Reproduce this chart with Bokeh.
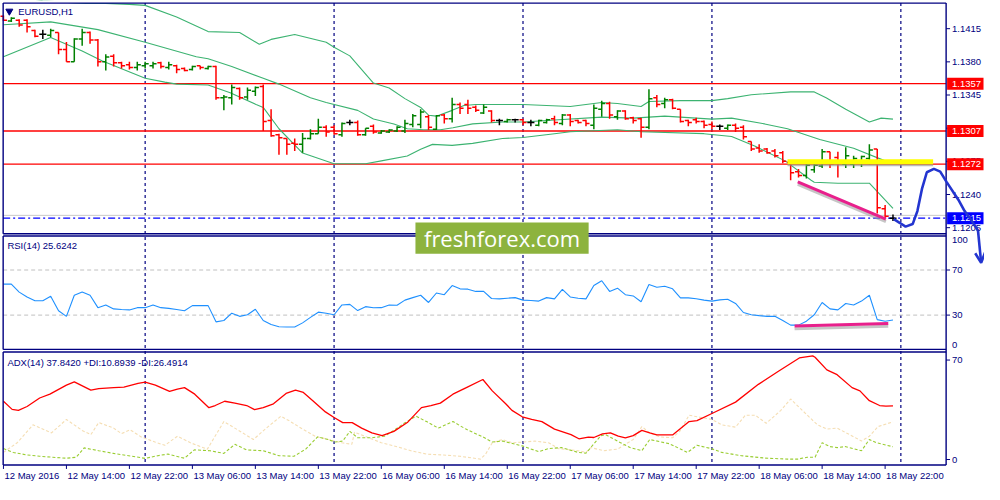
import numpy as np
from bokeh.plotting import figure
from bokeh.models import Range1d, ColumnDataSource, Arrow, OpenHead
from bokeh.embed import file_html
from bokeh.resources import INLINE
from bokeh.core.properties import value

# ---------------- data ----------------
OPEN = [1.1428,1.1423,1.1424,1.1424,1.1413,1.1409,1.1408,1.1411,1.1393,1.1380,
        1.1404,1.1411,1.1403,1.1380,1.1386,1.1379,1.1377,1.1374,1.1376,1.1376,
        1.1379,1.1374,1.1376,1.1373,1.1372,1.1376,1.1373,1.1375,1.1342,1.1342,
        1.1352,1.1343,1.1349,1.1354,1.1318,1.1303,1.1299,1.1294,1.1293,1.1299,
        1.1304,1.1311,1.1311,1.1303,1.1316,1.1316,1.1303,1.1312,1.1305,1.1306,
        1.1307,1.1307,1.1314,1.1314,1.1322,1.1309,1.1324,1.1320,1.1335,1.1335,
        1.1332,1.1326,1.1328,1.1318,1.1317,1.1319,1.1319,1.1316,1.1313,1.1316,
        1.1320,1.1315,1.1324,1.1318,1.1318,1.1313,1.1330,1.1336,1.1322,1.1328,
        1.1321,1.1320,1.1311,1.1342,1.1336,1.1340,1.1330,1.1318,1.1319,1.1317,
        1.1314,1.1312,1.1310,1.1313,1.1311,1.1296,1.1289,1.1288,1.1286,1.1284,
        1.1274,1.1264,1.1260,1.1266,1.1270,1.1285,1.1279,1.1272,1.1272,1.1275,
        1.1278,1.1288,1.1225,1.1215]
HIGH = [1.1429,1.1427,1.1425,1.1425,1.1414,1.1414,1.1415,1.1411,1.1401,1.1405,
        1.1415,1.1412,1.1404,1.1388,1.1388,1.1380,1.1380,1.1380,1.1380,1.1380,
        1.1380,1.1380,1.1377,1.1374,1.1376,1.1376,1.1376,1.1376,1.1345,1.1356,
        1.1353,1.1353,1.1354,1.1356,1.1330,1.1304,1.1299,1.1299,1.1305,1.1309,
        1.1320,1.1313,1.1313,1.1316,1.1319,1.1318,1.1310,1.1314,1.1308,1.1309,
        1.1312,1.1319,1.1325,1.1330,1.1324,1.1324,1.1325,1.1342,1.1337,1.1340,
        1.1334,1.1335,1.1329,1.1320,1.1320,1.1320,1.1320,1.1319,1.1319,1.1320,
        1.1323,1.1325,1.1325,1.1319,1.1319,1.1335,1.1339,1.1338,1.1329,1.1329,
        1.1322,1.1321,1.1351,1.1345,1.1342,1.1341,1.1330,1.1319,1.1321,1.1318,
        1.1317,1.1314,1.1314,1.1315,1.1313,1.1296,1.1293,1.1289,1.1288,1.1286,
        1.1276,1.1267,1.1276,1.1273,1.1288,1.1285,1.1285,1.1290,1.1281,1.1281,
        1.1293,1.1288,1.1229,1.1219]
LOW = [1.1423,1.1422,1.1417,1.1411,1.1406,1.1404,1.1406,1.1388,1.1380,1.1380,
       1.1397,1.1399,1.1375,1.1371,1.1375,1.1373,1.1372,1.1371,1.1373,1.1373,
       1.1373,1.1372,1.1368,1.1370,1.1371,1.1372,1.1372,1.1340,1.1329,1.1335,
       1.1340,1.1340,1.1344,1.1307,1.1301,1.1282,1.1282,1.1286,1.1284,1.1298,
       1.1304,1.1301,1.1303,1.1301,1.1313,1.1302,1.1302,1.1304,1.1304,1.1305,
       1.1306,1.1305,1.1311,1.1310,1.1308,1.1308,1.1315,1.1316,1.1325,1.1325,
       1.1327,1.1325,1.1316,1.1313,1.1316,1.1316,1.1313,1.1312,1.1312,1.1315,
       1.1313,1.1313,1.1312,1.1315,1.1312,1.1309,1.1322,1.1320,1.1319,1.1319,
       1.1315,1.1300,1.1309,1.1332,1.1331,1.1330,1.1316,1.1312,1.1315,1.1310,
       1.1309,1.1308,1.1308,1.1306,1.1298,1.1286,1.1284,1.1283,1.1279,1.1273,
       1.1255,1.1258,1.1257,1.1263,1.1268,1.1268,1.1258,1.1268,1.1268,1.1269,
       1.1272,1.1220,1.1215,1.1212]
CLOSE = [1.1424,1.1426,1.1419,1.1417,1.1407,1.1409,1.1413,1.1393,1.1380,1.1404,
         1.1411,1.1403,1.1380,1.1385,1.1379,1.1376,1.1374,1.1377,1.1378,1.1378,
         1.1375,1.1377,1.1372,1.1371,1.1375,1.1374,1.1375,1.1342,1.1343,1.1353,
         1.1342,1.1350,1.1353,1.1317,1.1302,1.1300,1.1293,1.1293,1.1299,1.1304,
         1.1311,1.1306,1.1304,1.1315,1.1316,1.1303,1.1310,1.1306,1.1307,1.1308,
         1.1311,1.1315,1.1323,1.1327,1.1311,1.1323,1.1320,1.1335,1.1331,1.1331,
         1.1329,1.1332,1.1318,1.1318,1.1319,1.1319,1.1316,1.1316,1.1318,1.1319,
         1.1316,1.1324,1.1317,1.1316,1.1315,1.1331,1.1336,1.1324,1.1328,1.1320,
         1.1318,1.1311,1.1341,1.1335,1.1340,1.1331,1.1317,1.1316,1.1317,1.1313,
         1.1312,1.1312,1.1313,1.1310,1.1301,1.1288,1.1286,1.1284,1.1281,1.1275,
         1.1263,1.1260,1.1271,1.1271,1.1285,1.1272,1.1273,1.1281,1.1278,1.1280,
         1.1287,1.1226,1.1217,1.1215]

# Bollinger bands (20,2) read at selected bars
BB_UP_X = [0, 5, 9, 10.5, 13, 16, 18, 22, 26, 30, 32.5, 34, 37, 41, 42, 44, 47, 49, 51, 53, 54, 55,
           57, 58.5, 60, 66, 72, 76, 78, 81, 82, 86, 90, 92, 95, 100, 103, 104.5, 107, 110, 111.5, 113]
BB_UP = [1.1452, 1.14445, 1.14422, 1.14417, 1.14417, 1.14406, 1.14396, 1.14273, 1.14119, 1.14109,
         1.13986, 1.14037, 1.14088, 1.14006, 1.13955, 1.13863, 1.13576, 1.13524, 1.13412, 1.13319,
         1.13237, 1.13227, 1.13288, 1.13340, 1.13350, 1.13350, 1.13329, 1.13371, 1.13360, 1.13329,
         1.13381, 1.13391, 1.13391, 1.13412, 1.13453, 1.13483, 1.13483, 1.13422, 1.13299, 1.13165,
         1.13206, 1.13196]
BB_MID_X = [0, 6, 12, 18, 24.5, 26, 29, 33, 35, 39, 41, 45, 47, 49.6, 51.3, 53.4, 55.5, 57.1, 59.6,
            63.4, 66, 70, 76, 80, 84, 90, 92.5, 96.7, 99.6, 103.7, 108, 112, 113]
BB_MID = [1.14191, 1.14222, 1.14140, 1.14006, 1.13853, 1.13832, 1.13750, 1.13627, 1.13565, 1.13422,
          1.13371, 1.13288, 1.13196, 1.13145, 1.13094, 1.13083, 1.13083, 1.13104, 1.13145, 1.13165,
          1.13165, 1.13186, 1.13217, 1.13206, 1.13227, 1.13196, 1.13206, 1.13145, 1.13094, 1.12981,
          1.12888, 1.12755, 1.12735]
BB_LOW_X = [0, 6, 10, 12.5, 18, 20.5, 22, 26, 28.8, 32.1, 33, 35, 38, 42, 46, 48, 51.3, 53, 54.5, 57,
            59.6, 63.4, 66, 70, 72, 78, 81, 89, 92.5, 95.5, 99.3, 102.6, 103, 106, 110, 113]
BB_LOW = [1.13853, 1.14058, 1.13914, 1.13812, 1.13627, 1.13586, 1.13565, 1.13555, 1.13473, 1.13350,
          1.13319, 1.13094, 1.12837, 1.12724, 1.12724, 1.12755, 1.12806, 1.12878, 1.12929, 1.12919,
          1.12940, 1.12991, 1.13001, 1.13042, 1.13063, 1.13083, 1.13063, 1.13042, 1.13012, 1.12909,
          1.12755, 1.12550, 1.12530, 1.12519, 1.12519, 1.12253]

RSI = [57.5,57.5,50.4,46.0,42.7,42.7,46.7,33.8,28.9,47.6,50.4,47.6,36.6,39.0,35.5,35.0,34.6,36.6,
       36.6,39.0,36.6,36.0,35.0,33.8,38.4,38.4,38.4,24.0,25.2,31.7,28.9,30.3,35.2,25.2,21.7,19.7,
       19.4,19.4,23.1,28.0,32.6,31.7,30.3,39.0,39.5,34.0,37.5,36.5,36.6,39.0,38.7,43.3,45.5,47.6,
       41.2,49.6,48.1,56.2,53.3,53.0,51.0,51.0,44.7,44.4,45.0,45.5,43.3,43.0,42.4,45.5,44.4,52.8,
       46.1,45.0,44.4,56.2,60.5,51.0,53.9,48.1,47.0,41.8,57.1,54.7,55.6,53.3,45.3,45.3,44.5,43.3,
       42.4,43.5,44.1,40.3,32.3,30.3,29.5,28.9,28.9,25.2,21.1,21.1,24.6,30.3,41.2,35.5,34.6,40.3,
       39.0,42.4,47.6,26.0,24.6,25.6]

ADX_X = [0,1.1,1.9,3,4.6,5.9,8,9,11.1,12.1,14,15.3,17.1,18,19.3,21.1,22.1,23,24.3,26.1,26.9,28.1,
         29.4,30.9,31.9,33,34.3,35.9,37.1,38.1,39.3,40.9,42,43.1,44.3,45.5,46.8,48.1,49.6,51.3,53.1,
         54.3,55.5,57.1,58.8,60.9,62.1,63.8,64.6,65.9,67.1,68.4,70,72.1,73.1,74.3,75,76.1,77.1,78.1,
         79,80,81.1,82.1,83,85,87.1,88.1,90,93,95.9,98.4,101.1,102.8,103.1,104.6,105.9,107.8,108.8,
         110,111.3,112.1,113]
ADX = [41,35.3,34.6,37.3,43.3,46,52.4,54.7,48.8,49.9,50.6,51,53.6,54.4,52.4,47.9,49.5,50.6,46,36.5,
       38,41,39.7,38,35.1,36.5,39.2,46.5,48.8,47.2,41.4,33.5,29.6,26,26,22.1,18.7,16.8,19.8,26,36.5,
       38,39.7,46,50.6,56.3,48.3,39.2,34.6,30.1,28.2,26.7,21.4,17.5,14.6,15.7,15.5,18,18.7,16.4,15.3,
       16.8,20.5,18.7,17.3,17.3,26.7,27.4,32.4,40.4,52.9,62,71.5,72.9,72,63.1,59.7,50.6,48.3,41.4,38,
       37.6,37.8]
PDI_X = [0,1.25,3,4.6,6.25,8,9.25,10.25,12.1,14,15.9,18,19.6,20.9,23,24.25,26.25,28,29.4,30.9,33,35,
         36.9,38.4,39.9,41.25,42.1,43.1,44,45,46.75,48.4,49.6,50.9,52.4,53.75,55.25,57.1,58.75,60.9,
         62.1,63.4,64.25,65.9,68,69.25,70.9,73,74,75.9,76.5,78.4,79.6,81.1,82.1,84.6,86.9,88.1,89.9,
         91.25,93.75,96.75,99.6,100.9,102.1,103.1,104,105,105.9,106.9,109,110,110.9,113]
PDI = [7.7,5,3.2,2.3,1.6,0.9,1.6,8.2,6.2,4.3,2.7,0.8,2.7,3.8,0.9,6.8,6.2,4.3,10.7,6.8,6.2,2.7,2.3,7.3,
       15.9,14.1,12.3,13,19.8,15.3,15.3,16.4,20.5,25.5,30.5,26.7,22.1,26.7,21.4,15.9,12.3,13,11.8,9.6,
       5.5,7.7,8.4,5,4.5,16.8,17.5,11.8,8.4,6.2,14.1,11.1,5,10,7.7,5,2.7,1.0,0.3,0.3,1.6,1.6,11.8,9.1,
       8.4,9.1,6.2,14.1,11.8,9.0]
MDI_X = [0,1.75,3.75,6.1,8,10,11.1,12.1,14,15,16.1,17.5,19.25,20.5,22.1,23.75,25.9,28,29.6,31.75,33.4,
         35.25,36.25,38,39.6,41.25,43,44.25,44.6,45.9,48,49.6,51.75,53.75,55.9,58,60.6,61.25,62.1,63.4,
         64.6,66.1,67.5,69.25,70.5,73,74,74.6,76.25,78,80,81.1,82.1,83.4,85,85.9,87.1,88.1,90,91.25,93,
         94.25,95.5,96.9,98.75,100,101.25,103.4,104.6,105.9,107.5,109,110,111.1,113]
MDI = [5,11.8,24.4,18.7,28.2,20.5,17.5,26,22.1,18.2,20.9,15.9,12.3,10,16.4,11.8,7.3,26.7,21.4,14.1,
       22.1,30.5,27.4,21.4,16.4,14.1,11.8,10.7,19.2,16.4,11.8,9.6,6.2,3.8,3.2,2.3,0.3,3.8,11.8,14.1,
       11.8,12.3,13,11.8,7.7,6.2,5,8.4,6.2,7.3,14.1,23.2,18.7,15.9,15.3,19.8,31.2,30.1,28.2,24.4,22.8,
       31.2,31.2,25.5,34.6,42.6,35.8,24.4,21.4,22.1,17.5,13,16.4,23.2,26.5]

LEVELS = [1.1357, 1.1307, 1.1272]          # red horizontal lines
BID = 1.1215
ASK_LINE = 1.1218
PRICE_TICKS = [1.1415, 1.1380, 1.1345, 1.1310, 1.1275, 1.1240, 1.1205]
RSI_LEVELS = [70, 30]
TIME_TICKS = [0, 8, 16, 24, 32, 40, 48, 56, 64, 72, 80, 88, 96, 104, 112]
TIME_LABELS = ["12 May 2016", "12 May 14:00", "12 May 22:00", "13 May 06:00", "13 May 14:00",
               "13 May 22:00", "16 May 06:00", "16 May 14:00", "16 May 22:00", "17 May 06:00",
               "17 May 14:00", "17 May 22:00", "18 May 06:00", "18 May 14:00", "18 May 22:00"]
DAY_SEPARATORS = [18, 42, 66, 90, 114]

# hand-drawn objects
YELLOW_X = [99.6, 118.1]; YELLOW_Y = [1.12745, 1.12745]
PINK_X = [100.9, 112.1]; PINK_Y = [1.12533, 1.12140]
PINK_RSI_X = [100.5, 112.4]; PINK_RSI_Y = [20.3, 22.6]
CURVE_X = [113.1, 113.9, 114.6, 115.5, 116.1, 116.7, 117.3, 118.2, 119.0, 119.8, 121.3, 122.1, 123.0, 123.8]
CURVE_Y = [1.12140, 1.12099, 1.12061, 1.12088, 1.12225, 1.12465, 1.12635, 1.12670, 1.12642, 1.12533,
           1.12345, 1.12225, 1.12122, 1.12020]
CURVE_TIP = (124.2, 1.11680)

# ---------------- styling ----------------
NAVY = "#000080"
FONT = value("Liberation Sans")
FS = "9.5px"
UP, DOWN, DOJI = "#008000", "#FF0000", "#000000"
BB_COL = "#3CB371"

# frame spans the whole picture: x 0..1000, y 0..498 of the original screen
p = figure(frame_width=984, frame_height=484, output_backend="svg", toolbar_location=None,
           x_range=Range1d(-0.375, 124.625), y_range=Range1d(1.093397, 1.144474),
           x_axis_location=None, y_axis_location=None, min_border=0,
           background_fill_color="white", border_fill_color="white")
p.extra_x_ranges = {"px": Range1d(0, 1000)}
p.extra_y_ranges = {"py": Range1d(498, 0),
                    "rsi": Range1d(-120.26, 309.05),
                    "adx": Range1d(-17.58, 323.05)}
p.grid.visible = False
p.outline_line_color = None

L, R = 2.7, 961
# day separators
p.segment(x0=DAY_SEPARATORS, x1=DAY_SEPARATORS, y0=2.7, y1=478, y_range_name="py",
          line_color=NAVY, line_width=1.2, line_dash="3 3")
# RSI levels
p.segment(x0=L, x1=R, y0=RSI_LEVELS, y1=RSI_LEVELS, x_range_name="px", y_range_name="rsi",
          line_color="#C0C0C0", line_width=1, line_dash="4 3")
# price lines
p.segment(x0=L, x1=R, y0=[ASK_LINE], y1=[ASK_LINE], x_range_name="px", line_color="#C8C8C8", line_width=1)
p.segment(x0=L, x1=R, y0=[BID], y1=[BID], x_range_name="px", line_color="#0000FF", line_width=1.3,
          line_dash="7 3 2 3")
p.segment(x0=L, x1=R, y0=LEVELS, y1=LEVELS, x_range_name="px", line_color="#FF0000", line_width=1.3)

# Bollinger bands
p.line(BB_UP_X, BB_UP, line_color=BB_COL, line_width=1.1)
p.line(BB_MID_X, BB_MID, line_color=BB_COL, line_width=1.1)
p.line(BB_LOW_X, BB_LOW, line_color=BB_COL, line_width=1.1)

# OHLC bars
o, h, l, c = map(np.array, (OPEN, HIGH, LOW, CLOSE))
idx = np.arange(len(o))
cols = np.where(c > o, UP, np.where(c < o, DOWN, DOJI))
src = ColumnDataSource(dict(x=idx, xl=idx - 0.45, xr=idx + 0.45, o=o, h=h, l=l, c=c, col=cols))
p.segment(x0="x", x1="x", y0="l", y1="h", line_color="col", line_width=1.5, source=src)
p.segment(x0="xl", x1="x", y0="o", y1="o", line_color="col", line_width=1.5, source=src)
p.segment(x0="x", x1="xr", y0="c", y1="c", line_color="col", line_width=1.5, source=src)

# RSI and ADX
p.line(idx, RSI, y_range_name="rsi", line_color="#1E90FF", line_width=1.1)
p.line(MDI_X, MDI, y_range_name="adx", line_color="#F5DEB3", line_width=1.1, line_dash="3 2")
p.line(PDI_X, PDI, y_range_name="adx", line_color="#9ACD32", line_width=1.1, line_dash="3 2")
p.line(ADX_X, ADX, y_range_name="adx", line_color="#FF0000", line_width=1.3)

# drawn objects
p.line(YELLOW_X, [v - 0.0003 for v in YELLOW_Y], line_color="#8C8C8C", line_width=3, line_alpha=0.6)
p.line(YELLOW_X, YELLOW_Y, line_color="#FFFF00", line_width=5)
p.line(PINK_X, [v - 0.00025 for v in PINK_Y], line_color="#A0A0A0", line_width=3, line_alpha=0.6)
p.line(PINK_X, PINK_Y, line_color="#E8208C", line_width=3)
p.line(PINK_RSI_X, [v - 2.5 for v in PINK_RSI_Y], y_range_name="rsi", line_color="#A0A0A0",
       line_width=3, line_alpha=0.6)
p.line(PINK_RSI_X, PINK_RSI_Y, y_range_name="rsi", line_color="#E8208C", line_width=3)

# mask above main panel
p.quad(left=0, right=1000, top=0, bottom=2.6, x_range_name="px", y_range_name="py",
       fill_color="white", line_color=None)

# panel borders
bx0 = [L, L, L, L, L, L, L, L, L, R]
bx1 = [R, R, L, R, R, L, R, R, L, R]
by0 = [2.7, 240, 2.7, 242.3, 359, 242.3, 361.7, 478, 361.7, 2.7]
by1 = [2.7, 240, 240, 242.3, 359, 359, 361.7, 478, 478, 478]
p.segment(x0=bx0, x1=bx1, y0=by0, y1=by1, x_range_name="px", y_range_name="py",
          line_color=NAVY, line_width=1.4)

# time scale (ticks + labels below the last panel)
p.segment(x0=TIME_TICKS, x1=TIME_TICKS, y0=478, y1=482, y_range_name="py", line_color=NAVY, line_width=1)
p.text(x=TIME_TICKS, y=488.5, text=TIME_LABELS, y_range_name="py", x_offset=1,
       text_font=FONT, text_font_size=FS, text_color=NAVY, text_baseline="middle", text_align="left")

# right price scale
p.segment(x0=R, x1=R + 4, y0=PRICE_TICKS, y1=PRICE_TICKS, x_range_name="px", line_color=NAVY, line_width=1)
p.text(x=R + 6, y=PRICE_TICKS, text=["%.4f" % v for v in PRICE_TICKS], x_range_name="px",
       text_font=FONT, text_font_size=FS, text_color=NAVY, text_baseline="middle")
p.rect(x=980.5, y=LEVELS, width=37, height=12, height_units="screen", x_range_name="px",
       fill_color="#FF0000", line_color=None)
p.text(x=R + 6, y=LEVELS, text=["%.4f" % v for v in LEVELS], x_range_name="px",
       text_font=FONT, text_font_size=FS, text_color="white", text_baseline="middle")
p.rect(x=980.5, y=[BID], width=37, height=12, height_units="screen", x_range_name="px",
       fill_color="#0000FF", line_color=None)
p.text(x=R + 6, y=[BID], text=["%.4f" % BID], x_range_name="px",
       text_font=FONT, text_font_size=FS, text_color="white", text_baseline="middle")

# RSI scale
p.segment(x0=R, x1=R + 4, y0=RSI_LEVELS, y1=RSI_LEVELS, x_range_name="px", y_range_name="rsi",
          line_color=NAVY, line_width=1)
p.text(x=R + 6, y=RSI_LEVELS, text=[str(v) for v in RSI_LEVELS], x_range_name="px", y_range_name="rsi",
       text_font=FONT, text_font_size=FS, text_color=NAVY, text_baseline="middle")
p.text(x=R + 6, y=[100], text=["100"], x_range_name="px", y_range_name="rsi",
       text_font=FONT, text_font_size=FS, text_color=NAVY, text_baseline="top", y_offset=1)
p.text(x=R + 6, y=[0], text=["0"], x_range_name="px", y_range_name="rsi",
       text_font=FONT, text_font_size=FS, text_color=NAVY, text_baseline="bottom", y_offset=-1)
# ADX scale
p.segment(x0=R, x1=R + 4, y0=[70, 0], y1=[70, 0], x_range_name="px", y_range_name="adx",
          line_color=NAVY, line_width=1)
p.text(x=R + 6, y=[70, 0], text=["70", "0"], x_range_name="px", y_range_name="adx",
       text_font=FONT, text_font_size=FS, text_color=NAVY, text_baseline="middle")

# watermark
p.quad(left=421.7, right=597.7, top=228.3, bottom=260.7, x_range_name="px", y_range_name="py",
       fill_color="#8DB33E", line_color=None)
p.text(x=[509.7], y=[244.5], text=["freshforex.com"], x_range_name="px", y_range_name="py",
       text_font=value("Open Sans"), text_font_size="22px", text_color="white",
       text_align="center", text_baseline="middle")

# panel titles
p.scatter(x=[9], y=[11], marker="inverted_triangle", size=7, x_range_name="px", y_range_name="py",
          fill_color=NAVY, line_color=NAVY)
p.text(x=[18], y=[11.5], text=["EURUSD,H1"], x_range_name="px", y_range_name="py",
       text_font=FONT, text_font_size=FS, text_color=NAVY, text_baseline="middle")
p.text(x=[7], y=[252], text=["RSI(14) 25.6242"], x_range_name="px", y_range_name="py",
       text_font=FONT, text_font_size=FS, text_color=NAVY, text_baseline="middle")
p.text(x=[7], y=[372], text=["ADX(14) 37.8420 +DI:10.8939 -DI:26.4914"], x_range_name="px",
       y_range_name="py", text_font=FONT, text_font_size=FS, text_color=NAVY, text_baseline="middle")

# blue projection curve
BLUE = "#2335D0"
p.line(CURVE_X, CURVE_Y, line_color=BLUE, line_width=2.6)
p.add_layout(Arrow(end=OpenHead(size=10, line_color=BLUE, line_width=2.6),
                   x_start=CURVE_X[-1], y_start=CURVE_Y[-1], x_end=CURVE_TIP[0], y_end=CURVE_TIP[1],
                   line_color=BLUE, line_width=2.6))

open("out.html", "w").write(file_html(p, INLINE))
